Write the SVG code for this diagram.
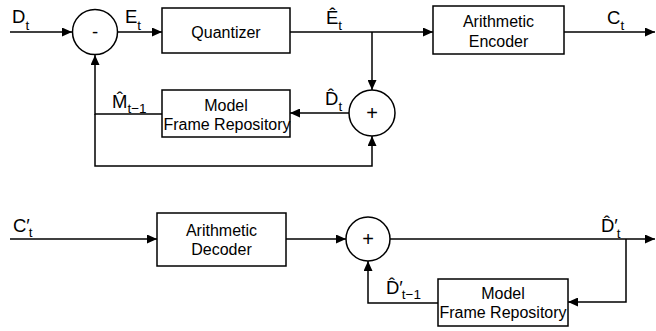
<svg xmlns="http://www.w3.org/2000/svg" width="656" height="331" viewBox="0 0 656 331">
<defs>
<marker id="arr" markerUnits="userSpaceOnUse" markerWidth="10" markerHeight="9" refX="10" refY="4.5" orient="auto">
<path d="M0,0 L10,4.5 L0,9 Z" fill="#000"/>
</marker>
<style>
.box{fill:#fff;stroke:#000;stroke-width:1.5}
.circ{fill:#fff;stroke:#000;stroke-width:1.5}
.ln{fill:none;stroke:#000;stroke-width:1.5}
.arrow{marker-end:url(#arr)}
.bt{font-family:"Liberation Sans",Arial,sans-serif;font-size:16px;text-anchor:middle;fill:#000}
.lb{font-family:"Liberation Sans",Arial,sans-serif;font-size:18.5px;fill:#000}
.sb{font-size:13.5px}
</style>
</defs>
<rect width="656" height="331" fill="#fff"/>
<g id="connectors">
<path class="ln arrow" d="M10,32 H72"/>
<path class="ln arrow" d="M117,32 H162"/>
<path class="ln arrow" d="M290,32 H433"/>
<path class="ln arrow" d="M564,32 H655"/>
<path class="ln arrow" d="M372,32 V90"/>
<path class="ln arrow" d="M349,113 H290"/>
<path class="ln arrow" d="M162,114 H95 V55"/>
<path class="ln arrow" d="M95,114 V166 H372 V136"/>
<path class="ln arrow" d="M10,239 H157"/>
<path class="ln arrow" d="M286,239 H346"/>
<path class="ln arrow" d="M390,239 H655"/>
<path class="ln arrow" d="M626,239 V302 H568"/>
<path class="ln arrow" d="M438,303 H368 V261"/>
</g>
<g id="sub1">
<circle class="circ" cx="95" cy="32" r="22.5"/>
<text class="lb" x="95" y="38" text-anchor="middle">-</text>
</g>
<g id="quantizer">
<rect class="box" x="162" y="8" width="128" height="45"/>
<text class="bt" x="226" y="38">Quantizer</text>
</g>
<g id="encoder">
<rect class="box" x="433" y="6" width="131" height="48"/>
<text class="bt" x="498.5" y="27">Arithmetic</text>
<text class="bt" x="498.5" y="47">Encoder</text>
</g>
<g id="add1">
<circle class="circ" cx="372" cy="113" r="23"/>
<text x="372" y="120" text-anchor="middle" font-family="Liberation Sans, sans-serif" font-size="20" fill="#000">+</text>
</g>
<g id="model1">
<rect class="box" x="162" y="90" width="128" height="47"/>
<text class="bt" x="226" y="111">Model</text>
<text class="bt" x="227" y="130">Frame Repository</text>
</g>
<g id="decoder">
<rect class="box" x="157" y="213" width="129" height="53"/>
<text class="bt" x="221.5" y="236">Arithmetic</text>
<text class="bt" x="221.5" y="255">Decoder</text>
</g>
<g id="add2">
<circle class="circ" cx="368" cy="239" r="22"/>
<text x="368" y="246" text-anchor="middle" font-family="Liberation Sans, sans-serif" font-size="20" fill="#000">+</text>
</g>
<g id="model2">
<rect class="box" x="438" y="279" width="130" height="47"/>
<text class="bt" x="503" y="299">Model</text>
<text class="bt" x="503" y="318">Frame Repository</text>
</g>
<g id="labels">
<text class="lb" x="12" y="23">D<tspan class="sb" dy="6.5">t</tspan></text>
<text class="lb" x="125" y="23">E<tspan class="sb" dy="6.5">t</tspan></text>
<text class="lb" x="326" y="24">Ê<tspan class="sb" dy="6">t</tspan></text>
<text class="lb" x="607" y="24">C<tspan class="sb" dy="6">t</tspan></text>
<text class="lb" x="325" y="105">D̂<tspan class="sb" dy="6">t</tspan></text>
<text class="lb" x="112" y="108">M̂<tspan class="sb" dy="5">t−1</tspan></text>
<text class="lb" x="13" y="232">C′<tspan class="sb" dx="-1" dy="5">t</tspan></text>
<text class="lb" x="601" y="232">D̂′<tspan class="sb" dx="-1" dy="6">t</tspan></text>
<text class="lb" x="386" y="294">D̂′<tspan class="sb" dx="-1" dy="5">t−1</tspan></text>
</g>
</svg>
